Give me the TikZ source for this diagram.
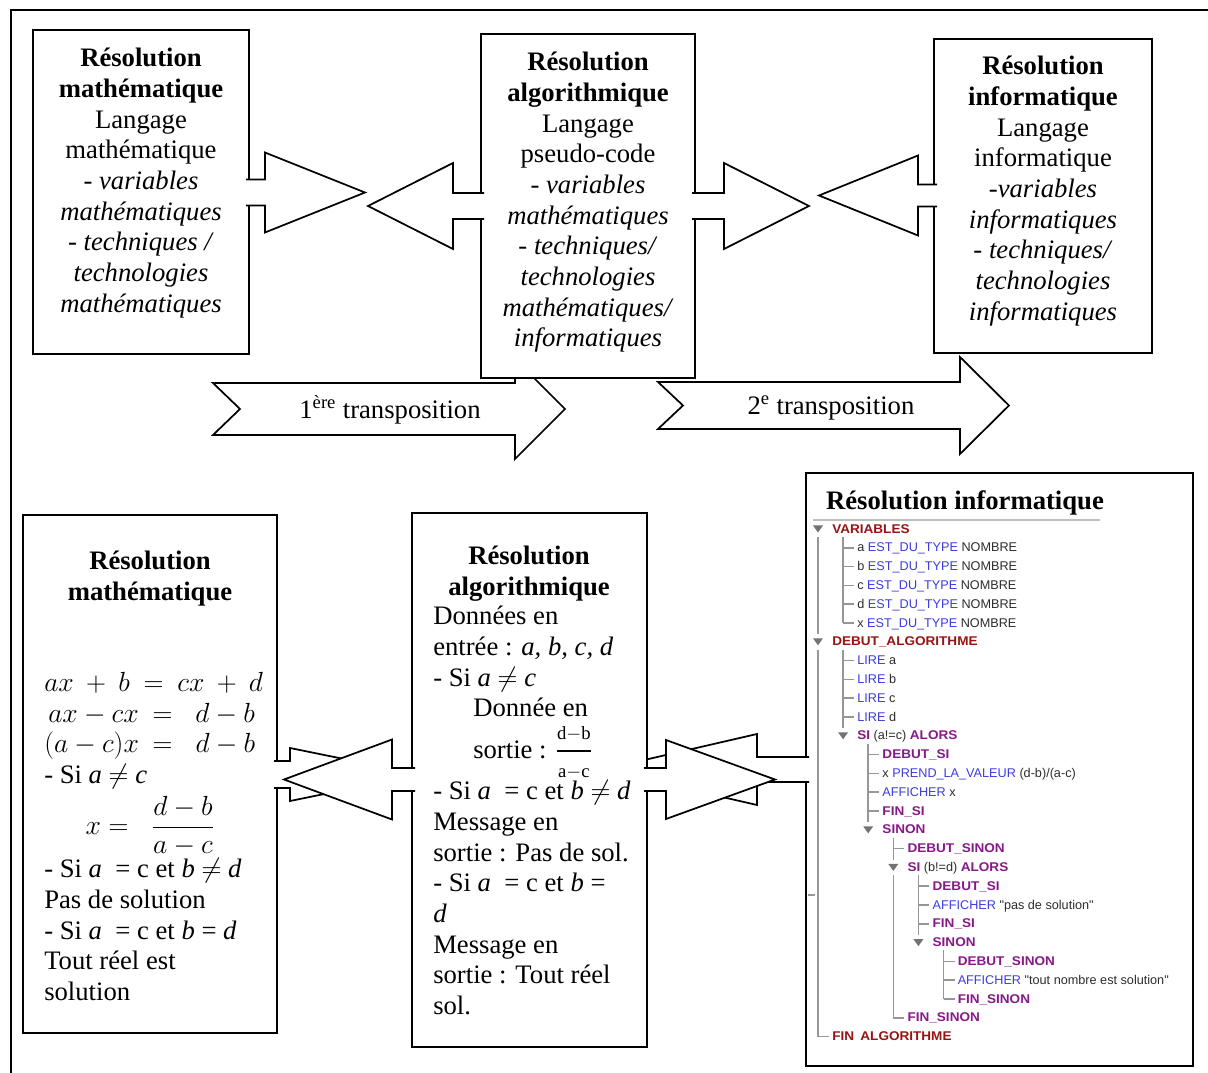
\documentclass[tikz,border=0pt]{standalone}
\usepackage{fontspec}
\usepackage{amsmath}
\usepackage{tikz}
\usetikzlibrary{fit}
\setmainfont{Liberation Serif}
\newfontfamily\algofont{Liberation Sans}[BoldFeatures={FakeStretch=1.07}]

\definecolor{algored}{RGB}{150,20,20}
\definecolor{algopurple}{RGB}{135,25,135}
\definecolor{algoblue}{RGB}{60,60,220}
\definecolor{algotext}{RGB}{45,45,45}
\definecolor{treegray}{RGB}{150,150,150}

\newcommand{\kwred}[1]{\textcolor{algored}{\textbf{#1}}}
\newcommand{\kwpur}[1]{\textcolor{algopurple}{\textbf{#1}}}
\newcommand{\kwblu}[1]{\textcolor{algoblue}{#1}}

\tikzset{
  box/.style={draw, line width=1.5pt, fill=white, inner sep=0pt},
  txt/.style={font=\fontsize{20}{23}\selectfont, inner sep=0pt},
  blk/.style={line width=1.3pt},
  algo/.style={font=\algofont\fontsize{9.5}{10}\selectfont, text=algotext, inner sep=0pt, anchor=base west},
  tree/.style={treegray, line width=1.2pt},
}

% block arrow: start x, head x, tip x, centre y, half shaft, half head
\newcommand{\blockarrow}[6]{%
  \fill[white] (#1,#4-#5) -- (#2,#4-#5) -- (#2,#4-#6) -- (#3,#4)
    -- (#2,#4+#6) -- (#2,#4+#5) -- (#1,#4+#5) -- cycle;
  \draw[blk] (#1,#4-#5) -- (#2,#4-#5) -- (#2,#4-#6) -- (#3,#4)
    -- (#2,#4+#6) -- (#2,#4+#5) -- (#1,#4+#5);}
% notched arrow: left x, notch x, head x, tip x, centre y, half shaft, half head
\newcommand{\notcharrow}[7]{%
  \filldraw[blk, fill=white] (#1,#5-#6) -- (#3,#5-#6) -- (#3,#5-#7) -- (#4,#5)
    -- (#3,#5+#7) -- (#3,#5+#6) -- (#1,#5+#6) -- (#2,#5) -- cycle;}
% tree rows of the algobox screenshot
\newcommand{\algrow}[4]{\node[algo] (#1) at ({832+25.1*#2},{533+18.8*#3}) {#4};}
\newcommand{\algtri}[2]{\fill[black!55] ({813+25.1*#1},{525.5+18.8*#2}) -- ++(10,0) -- ++(-5,7) -- cycle;}
\newcommand{\algtick}[2]{\draw[tree] ({818+25.1*#1},{529+18.8*#2}) -- ++(11,0);}

\begin{document}
\begin{tikzpicture}[x=0.75pt,y=-0.75pt]
\useasboundingbox (0,0) rectangle (1208,1073);
\draw[line width=1.5pt] (11,1080) -- (11,10) -- (1215,10);

% transpositions
\notcharrow{213}{240}{515}{565}{409}{26}{50}
\node[txt] (tr1) at (390,410) {1\textsuperscript{ère} transposition};
\notcharrow{658}{683}{960}{1009}{405.5}{23.5}{48.5}
\node[txt] (tr2) at (831,408) {2\textsuperscript{e} transposition};

% top row
\node[box, fit={(33,30) (249,354)}] (m1) {};
\node[txt, anchor=north, align=center] (m1t) at (141,48) {\textbf{Résolution}\\\textbf{mathématique}\\Langage\\mathématique\\- \textit{variables}\\\textit{mathématiques}\\\textit{- techniques /}\\\textit{technologies}\\\textit{mathématiques}};
\node[box, fit={(481,34) (695,378)}] (a1) {};
\node[txt, anchor=north, align=center] (a1t) at (588,52) {\textbf{Résolution}\\\textbf{algorithmique}\\Langage\\pseudo-code\\- \textit{variables}\\\textit{mathématiques}\\\textit{- techniques/}\\\textit{technologies}\\\textit{mathématiques/}\\\textit{informatiques}};
\node[box, fit={(934,39) (1152,353)}] (i1) {};
\node[txt, anchor=north, align=center] (i1t) at (1043,56) {\textbf{Résolution}\\\textbf{informatique}\\Langage\\informatique\\\textit{-variables}\\\textit{informatiques}\\\textit{- techniques/}\\\textit{technologies}\\\textit{informatiques}};

\blockarrow{246}{265}{365}{192.5}{13}{40}
\blockarrow{484}{453}{368}{206}{13}{43}
\blockarrow{692}{724}{809}{206}{13}{43}
\blockarrow{937}{918}{819}{195.5}{11}{40}

% bottom row
\node[box, fit={(23,515) (277,1033)}] (m2) {};
\node[txt, anchor=north, align=center] (m2t) at (150,551) {\textbf{Résolution}\\\textbf{mathématique}};
\node[txt, anchor=north west, align=left] (m2b) at (44,672) {%
$ax\:+\:b\:=\:cx\:+\:d$\\
\hspace*{3pt}$ax-cx\:=\;\;d-b$\\
$(a-c)x\:=\;\;d-b$\\
- Si \textit{a} $\neq$ \textit{c}\\[4.5pt]
\hspace*{31pt}$x=\;\;\dfrac{d-b}{a-c}$\\[1.5pt]
- Si \textit{a} \ = c et \textit{b} $\neq$ \textit{d}\\
Pas de solution\\
- Si \textit{a} \ = c et \textit{b} = \textit{d}\\
Tout réel est\\
solution};

\node[box, fit={(806,473) (1193,1066)}] (i2) {};
\node[txt, anchor=north] (i2t) at (965,490) {\textbf{Résolution informatique}};
\draw[black!25, line width=0.8pt] (813,520) -- (1100,520);
\draw[treegray, line width=0.8pt] (808,895) -- (815,895);
\draw[tree] (818,537) -- (818,634) (818,650) -- (818,1036.6) -- (829,1036.6);
\draw[tree] (843.1,537) -- (843.1,623) (843.1,650) -- (843.1,728);
\draw[tree] (868.2,744) -- (868.2,822);
\draw[tree] (893.3,838) -- (893.3,860) (893.3,875) -- (893.3,1017.8);
\draw[tree] (918.4,875) -- (918.4,935);
\draw[tree] (943.5,950) -- (943.5,999);
\foreach \k in {1,...,5,7,8,9,10} {\algtick{1}{\k}}
\foreach \k in {12,...,15} {\algtick{2}{\k}}
\foreach \k in {17,26} {\algtick{3}{\k}}
\foreach \k in {19,20,21} {\algtick{4}{\k}}
\foreach \k in {23,24,25} {\algtick{5}{\k}}
\foreach \l/\k in {0/0,0/6,1/11,2/16,3/18,4/22} {\algtri{\l}{\k}}
\algrow{r0}{0}{0}{\kwred{VARIABLES}}
\algrow{r1}{1}{1}{a \kwblu{EST\_DU\_TYPE} NOMBRE}
\algrow{r2}{1}{2}{b \kwblu{EST\_DU\_TYPE} NOMBRE}
\algrow{r3}{1}{3}{c \kwblu{EST\_DU\_TYPE} NOMBRE}
\algrow{r4}{1}{4}{d \kwblu{EST\_DU\_TYPE} NOMBRE}
\algrow{r5}{1}{5}{x \kwblu{EST\_DU\_TYPE} NOMBRE}
\algrow{r6}{0}{6}{\kwred{DEBUT\_ALGORITHME}}
\algrow{r7}{1}{7}{\kwblu{LIRE} a}
\algrow{r8}{1}{8}{\kwblu{LIRE} b}
\algrow{r9}{1}{9}{\kwblu{LIRE} c}
\algrow{r10}{1}{10}{\kwblu{LIRE} d}
\algrow{r11}{1}{11}{\kwpur{SI} (a!=c) \kwpur{ALORS}}
\algrow{r12}{2}{12}{\kwpur{DEBUT\_SI}}
\algrow{r13}{2}{13}{x \kwblu{PREND\_LA\_VALEUR} (d-b)/(a-c)}
\algrow{r14}{2}{14}{\kwblu{AFFICHER} x}
\algrow{r15}{2}{15}{\kwpur{FIN\_SI}}
\algrow{r16}{2}{16}{\kwpur{SINON}}
\algrow{r17}{3}{17}{\kwpur{DEBUT\_SINON}}
\algrow{r18}{3}{18}{\kwpur{SI} (b!=d) \kwpur{ALORS}}
\algrow{r19}{4}{19}{\kwpur{DEBUT\_SI}}
\algrow{r20}{4}{20}{\kwblu{AFFICHER} "pas de solution"}
\algrow{r21}{4}{21}{\kwpur{FIN\_SI}}
\algrow{r22}{4}{22}{\kwpur{SINON}}
\algrow{r23}{5}{23}{\kwpur{DEBUT\_SINON}}
\algrow{r24}{5}{24}{\kwblu{AFFICHER} "tout nombre est solution"}
\algrow{r25}{5}{25}{\kwpur{FIN\_SINON}}
\algrow{r26}{3}{26}{\kwpur{FIN\_SINON}}
\algrow{r27}{0}{27}{\kwred{FIN\hspace{0.5em}ALGORITHME}}

\blockarrow{274}{290}{420}{774.5}{13.5}{26.5}
\blockarrow{809}{757}{603}{769.5}{12.5}{35.5}
\node[box, fit={(412,513) (647,1047)}] (a2) {};
\node[txt, anchor=north, align=center] (a2t) at (529,546) {\textbf{Résolution}\\\textbf{algorithmique}};
\node[txt, anchor=north west, align=left] (a2b) at (433,606) {%
Données en\\
entrée : \textit{a, b, c, d}\\
- Si \textit{a} $\neq$ \textit{c}\\
\hspace*{30pt}Donnée en\\[6pt]
\hspace*{30pt}sortie : $\genfrac{}{}{1.6pt}{0}{\scriptstyle\mathrm{d-b}}{\scriptstyle\mathrm{a-c}}$\\[0.5pt]
- Si \textit{a} \ = c et \textit{b} $\neq$ \textit{d}\\
Message en\\
sortie : Pas de sol.\\
- Si \textit{a} \ = c et \textit{b} =\\
\textit{d}\\
Message en\\
sortie : Tout réel\\
sol.};
\blockarrow{415}{392}{284}{779.5}{11.5}{40}
\blockarrow{644}{666}{775}{779.5}{11.5}{39.5}
\end{tikzpicture}
\end{document}
